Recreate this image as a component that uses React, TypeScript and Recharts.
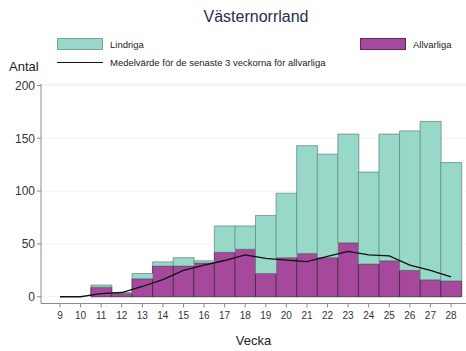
import React from "react";
import { ComposedChart, Bar, Line, XAxis, YAxis, CartesianGrid } from "recharts";

const weeks = [9, 10, 11, 12, 13, 14, 15, 16, 17, 18, 19, 20, 21, 22, 23, 24, 25, 26, 27, 28];
const allvarliga = [0, 0, 9, 3, 17, 29, 29, 32, 42, 45, 22, 37, 41, 37, 51, 31, 34, 25, 16, 15];
const lindriga = [0, 0, 2, 1, 5, 4, 8, 2, 25, 22, 55, 61, 102, 98, 103, 87, 120, 132, 150, 112];
const medel = [0, 0, 3, 4, 9.7, 16.3, 25, 30, 34.3, 39.7, 36.3, 34.7, 33.3, 38.3, 43, 39.7, 38.7, 30, 25, 18.7];
const yTicks = [0, 50, 100, 150, 200];

const data = weeks.map((w, i) => ({
  week: w,
  allvarliga: allvarliga[i],
  lindriga: lindriga[i],
  medel: medel[i],
}));

const TEAL = "#97d8c9";
const PURPLE = "#a6489b";
const FONT = "'Liberation Sans', Arial, sans-serif";

export default function App() {
  return (
    <div style={{ position: "absolute", left: 0, top: 0, width: 466, height: 351, background: "#fff", fontFamily: FONT }}>
      <ComposedChart
        width={466}
        height={351}
        data={data}
        margin={{ top: 84, right: 0, left: 0, bottom: 0 }}
        barCategoryGap={0}
        barGap={0}
      >
        <CartesianGrid vertical={false} stroke="#edf5f3" strokeWidth={1} />
        <XAxis
          dataKey="week"
          height={47.5}
          padding={{ left: 8.7, right: 4.7 }}
          interval={0}
          stroke="#8a8a8a"
          tickSize={4}
          tick={{ fill: "#333", fontSize: 10, fontFamily: FONT }}
          tickMargin={4}
        />
        <YAxis
          width={41}
          domain={[-6.4, 201.4]}
          ticks={yTicks}
          interval={0}
          stroke="#8a8a8a"
          tickSize={4}
          tickMargin={2}
          tick={{ fill: "#333", fontSize: 12, fontFamily: FONT }}
          allowDataOverflow
        />
        <Bar dataKey="allvarliga" stackId="a" fill={PURPLE} stroke="#3b2a39" strokeOpacity={0.8} strokeWidth={1} isAnimationActive={false} />
        <Bar dataKey="lindriga" stackId="a" fill={TEAL} stroke="#5f807a" strokeOpacity={0.7} strokeWidth={1} isAnimationActive={false} />
        <Line dataKey="medel" type="linear" stroke="#111" strokeWidth={1.3} dot={false} isAnimationActive={false} />
      </ComposedChart>

      <div style={{ position: "absolute", left: 0, width: 466, top: 8, textAlign: "center", paddingLeft: 46, boxSizing: "border-box", fontSize: 16, color: "#1f2d4d" }}>
        Västernorrland
      </div>

      <div style={{ position: "absolute", left: 57, top: 38, width: 46, height: 12, background: TEAL, border: "1px solid #7aa79c", boxSizing: "border-box" }} />
      <div style={{ position: "absolute", left: 110, top: 38, fontSize: 9.5, lineHeight: "13px", color: "#222" }}>Lindriga</div>

      <div style={{ position: "absolute", left: 360, top: 38, width: 46, height: 12, background: PURPLE, border: "1px solid #5b2c55", boxSizing: "border-box" }} />
      <div style={{ position: "absolute", left: 413, top: 38, fontSize: 9.5, lineHeight: "13px", color: "#222" }}>Allvarliga</div>

      <div style={{ position: "absolute", left: 57, top: 62, width: 46, height: 1.3, background: "#111" }} />
      <div style={{ position: "absolute", left: 110, top: 56, fontSize: 9.5, lineHeight: "13px", color: "#222" }}>Medelvärde för de senaste 3 veckorna för allvarliga</div>

      <div style={{ position: "absolute", left: 9, top: 59, fontSize: 13, lineHeight: "16px", color: "#222" }}>Antal</div>

      <div style={{ position: "absolute", left: 41, width: 425, top: 333, textAlign: "center", fontSize: 13, lineHeight: "16px", color: "#222" }}>Vecka</div>
    </div>
  );
}
